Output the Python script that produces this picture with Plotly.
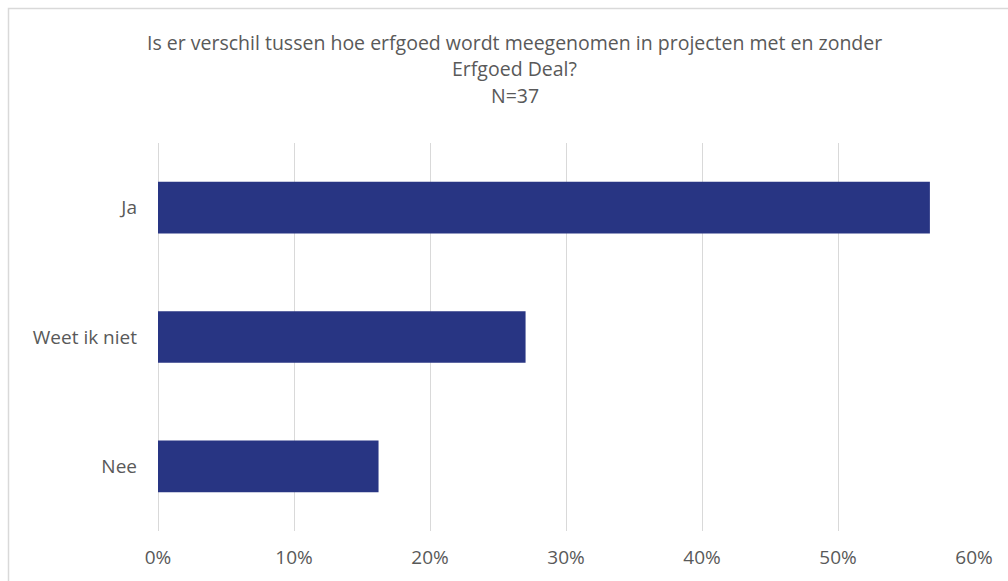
import plotly.graph_objects as go

# Survey answers (N=37), share of respondents
categories = ["Ja", "Weet ik niet", "Nee"]
shares = [21 / 37, 10 / 37, 6 / 37]
tick_values = [0, 0.1, 0.2, 0.3, 0.4, 0.5, 0.6]
tick_labels = ["0%", "10%", "20%", "30%", "40%", "50%", "60%"]
title_lines = [
    "Is er verschil tussen hoe erfgoed wordt meegenomen in projecten met en zonder",
    "Erfgoed Deal?",
    "N=37",
]

FONT = "Open Sans"
TEXT_COLOR = "#595959"
GRID_COLOR = "#d9d9d9"
BAR_COLOR = "#283583"

W, H = 1008, 581
M_L, M_R, M_T, M_B = 158, 34, 143, 50
PLOT_W = W - M_L - M_R
PLOT_H = H - M_T - M_B


def px_x(x):
    return (x - M_L) / PLOT_W


def px_y(y):
    return (H - M_B - y) / PLOT_H


fig = go.Figure(
    go.Bar(
        x=shares,
        y=categories,
        orientation="h",
        marker=dict(color=BAR_COLOR, line=dict(width=0)),
        hoverinfo="skip",
    )
)

# Three centred title lines
title_rows_px = [42, 68.5, 95]
annotations = [
    dict(
        text=line,
        xref="paper",
        yref="paper",
        x=px_x(514.5),
        y=px_y(row),
        xanchor="center",
        yanchor="middle",
        showarrow=False,
        font=dict(family=FONT, size=19.5, color=TEXT_COLOR),
    )
    for line, row in zip(title_lines, title_rows_px)
]

fig.update_layout(
    width=W,
    height=H,
    margin=dict(l=M_L, r=M_R, t=M_T, b=M_B),
    paper_bgcolor="white",
    plot_bgcolor="white",
    bargap=0.6,
    showlegend=False,
    font=dict(family=FONT, size=19, color=TEXT_COLOR),
    annotations=annotations,
    xaxis=dict(
        range=[0, 0.6],
        tickvals=tick_values,
        ticktext=tick_labels,
        showgrid=True,
        gridcolor=GRID_COLOR,
        gridwidth=1,
        zeroline=True,
        zerolinecolor=GRID_COLOR,
        zerolinewidth=1,
        showline=False,
        ticks="",
        ticklabelstandoff=13,
        tickfont=dict(family=FONT, size=19, color=TEXT_COLOR),
    ),
    yaxis=dict(
        autorange="reversed",
        showgrid=False,
        zeroline=False,
        showline=False,
        ticks="",
        ticklabelstandoff=20,
        tickfont=dict(family=FONT, size=19, color=TEXT_COLOR),
    ),
    shapes=[
        # chart frame: left and top edges, running off the page on the other sides
        dict(
            type="rect",
            xref="paper",
            yref="paper",
            x0=px_x(8.5),
            x1=px_x(W + 10),
            y0=px_y(H + 10),
            y1=px_y(8.5),
            line=dict(color=GRID_COLOR, width=1.5),
            fillcolor="rgba(0,0,0,0)",
            layer="below",
        )
    ],
)

fig.write_html("out.html")
